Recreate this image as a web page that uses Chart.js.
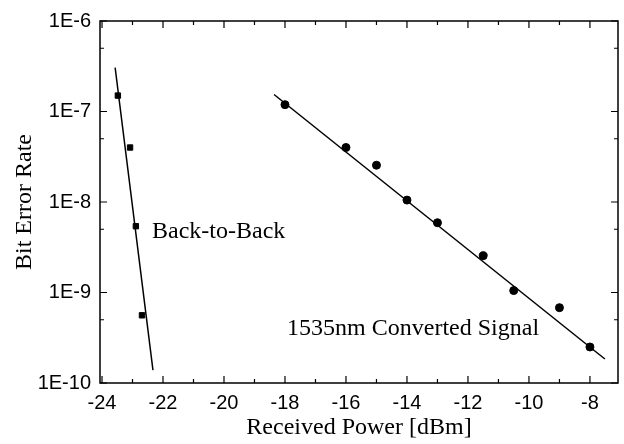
<!DOCTYPE html>
<html>
<head>
<meta charset="utf-8">
<script src="https://cdn.jsdelivr.net/npm/chart.js@4/dist/chart.umd.min.js"></script>
<style>
  html, body { margin: 0; padding: 0; background: #fff; }
  #wrap { width: 624px; height: 444px; }
</style>
</head>
<body>
<div id="wrap"><canvas id="berChart" width="624" height="444"></canvas></div>
<script>
// measured points
const b2bPower = [-23.48, -23.08, -22.89, -22.69];
const b2bBer = [1.5e-7, 4.0e-8, 5.4e-9, 5.6e-10];
const convPower = [-18, -16, -15, -14, -13, -11.5, -10.5, -9, -8];
const convBer = [1.19e-7, 4.0e-8, 2.55e-8, 1.05e-8, 5.9e-9, 2.55e-9, 1.05e-9, 6.8e-10, 2.5e-10];

// fitted lines (end points)
const b2bFitPower = [-23.57, -22.33];
const b2bFitBer = [3.05e-7, 1.39e-10];
const convFitPower = [-18.36, -7.51];
const convFitBer = [1.54e-7, 1.84e-10];

// axes
const xTicks = [-24, -22, -20, -18, -16, -14, -12, -10, -8];
const xMinor = [-23, -21, -19, -17, -15, -13, -11, -9];
const yTicks = [1e-10, 1e-9, 1e-8, 1e-7, 1e-6];
const yTickLabels = ['1E-10', '1E-9', '1E-8', '1E-7', '1E-6'];
const yMinor = [5e-10, 5e-9, 5e-8, 5e-7];

const notes = [
    { text: 'Back-to-Back', x: -22.36, y: 4.7e-9 },
    { text: '1535nm Converted Signal', x: -17.93, y: 4.0e-10 }
];

const pts = (xs, ys) => xs.map((x, i) => ({ x: x, y: ys[i] }));

// frame, inward ticks and text labels
const framePlugin = {
    id: 'frame',
    afterDatasetsDraw(chart) {
        const ctx = chart.ctx;
        const a = chart.chartArea;
        const xs = chart.scales.x;
        const ys = chart.scales.y;
        ctx.save();
        ctx.strokeStyle = '#000';
        ctx.lineWidth = 1.5;
        ctx.strokeRect(a.left, a.top, a.right - a.left, a.bottom - a.top);
        ctx.lineWidth = 1.2;
        ctx.beginPath();
        const xt = (v, len) => {
            const px = xs.getPixelForValue(v);
            ctx.moveTo(px, a.bottom); ctx.lineTo(px, a.bottom - len);
            ctx.moveTo(px, a.top); ctx.lineTo(px, a.top + len);
        };
        const yt = (v, len) => {
            const py = ys.getPixelForValue(v);
            ctx.moveTo(a.left, py); ctx.lineTo(a.left + len, py);
            ctx.moveTo(a.right, py); ctx.lineTo(a.right - len, py);
        };
        xTicks.forEach(v => xt(v, 7));
        xMinor.forEach(v => xt(v, 4));
        yTicks.forEach(v => yt(v, 7));
        yMinor.forEach(v => yt(v, 4));
        ctx.stroke();

        ctx.fillStyle = '#000';
        ctx.font = '24px "Liberation Serif", "Times New Roman", serif';
        ctx.textBaseline = 'middle';
        ctx.textAlign = 'left';
        notes.forEach(n => {
            ctx.fillText(n.text, xs.getPixelForValue(n.x), ys.getPixelForValue(n.y));
        });
        ctx.restore();
    }
};

const ctx = document.getElementById('berChart').getContext('2d');
const berChart = new Chart(ctx, {
    type: 'scatter',
    data: {
        datasets: [
            {
                label: 'Back-to-Back',
                data: pts(b2bPower, b2bBer),
                pointStyle: 'rect',
                pointRadius: 3.8,
                backgroundColor: '#000',
                borderColor: '#000',
                showLine: false
            },
            {
                label: '1535nm Converted Signal',
                data: pts(convPower, convBer),
                pointStyle: 'circle',
                pointRadius: 4,
                backgroundColor: '#000',
                borderColor: '#000',
                showLine: false
            },
            {
                label: 'b2b fit',
                data: pts(b2bFitPower, b2bFitBer),
                showLine: true,
                pointRadius: 0,
                borderColor: '#000',
                borderWidth: 1.5
            },
            {
                label: 'conv fit',
                data: pts(convFitPower, convFitBer),
                showLine: true,
                pointRadius: 0,
                borderColor: '#000',
                borderWidth: 1.5
            }
        ]
    },
    options: {
        responsive: false,
        animation: false,
        layout: { padding: { top: 19, right: 6, left: 0, bottom: 0 } },
        plugins: {
            legend: { display: false },
            tooltip: { enabled: false }
        },
        scales: {
            x: {
                type: 'linear',
                min: -24.066,
                max: -7.08,
                afterBuildTicks: s => { s.ticks = xTicks.map(v => ({ value: v })); },
                afterFit: s => { s.height = 61; },
                grid: { display: false, drawTicks: false },
                border: { display: false },
                ticks: {
                    color: '#000',
                    padding: 8,
                    maxRotation: 0,
                    font: { family: '"Liberation Sans", Arial, sans-serif', size: 20 },
                    callback: v => String(v)
                },
                title: {
                    display: true,
                    text: 'Received Power [dBm]',
                    color: '#000',
                    padding: { top: 0, bottom: 2 },
                    font: { family: '"Liberation Serif", "Times New Roman", serif', size: 24 }
                }
            },
            y: {
                type: 'logarithmic',
                min: 1e-10,
                max: 1e-6,
                afterBuildTicks: s => { s.ticks = yTicks.map(v => ({ value: v })); },
                afterFit: s => { s.width = 100; },
                grid: { display: false, drawTicks: false },
                border: { display: false },
                ticks: {
                    color: '#000',
                    padding: 9,
                    font: { family: '"Liberation Sans", Arial, sans-serif', size: 20 },
                    callback: (v) => yTickLabels[yTicks.findIndex(t => Math.abs(Math.log10(t) - Math.log10(v)) < 1e-6)]
                },
                title: {
                    display: true,
                    text: 'Bit Error Rate',
                    color: '#000',
                    padding: { top: 10, bottom: 0 },
                    font: { family: '"Liberation Serif", "Times New Roman", serif', size: 24 }
                }
            }
        }
    },
    plugins: [framePlugin]
});
</script>
</body>
</html>
